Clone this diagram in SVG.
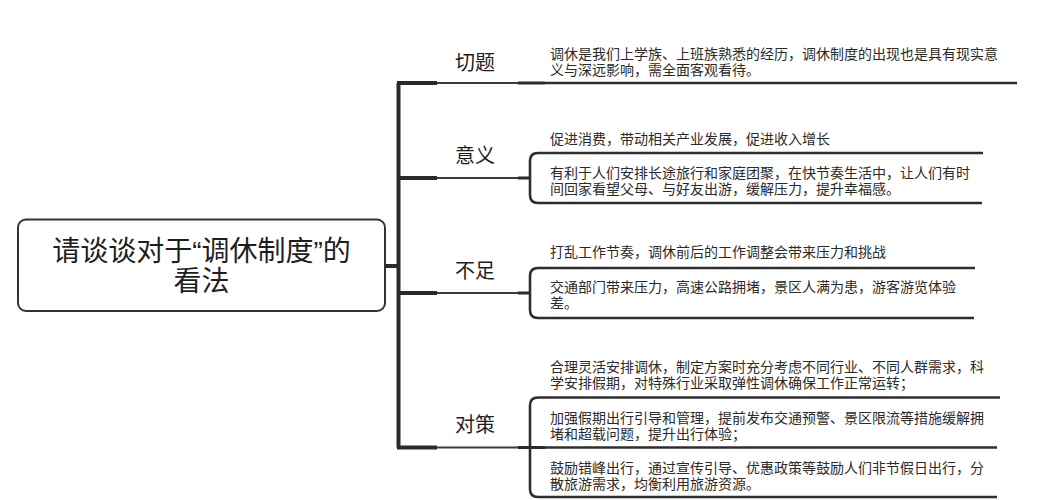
<svg xmlns="http://www.w3.org/2000/svg" width="1058" height="500" viewBox="0 0 1058 500">
<style>
.bg{fill:#ffffff}
.root{fill:#ffffff;stroke:#333;stroke-width:2}
.title{font-family:"Noto Sans CJK SC","Noto Sans",sans-serif;font-size:28px;fill:#1e1e1e;text-anchor:middle}
.q{font-family:"Liberation Sans","Noto Sans CJK SC",sans-serif}
.lab{font-family:"Noto Sans CJK SC","Noto Sans",sans-serif;font-size:20px;fill:#1e1e1e}
.txt{font-family:"Noto Sans CJK SC","Noto Sans",sans-serif;font-size:14px;fill:#2a2a2a}
.trunk{fill:none;stroke:#2a2a2a;stroke-width:4}
.stub{fill:none;stroke:#2a2a2a;stroke-width:4}
.thin{fill:none;stroke:#3a3a3a;stroke-width:2}
.mid{fill:none;stroke:#2a2a2a;stroke-width:3}
.item{fill:none;stroke:#2e2e2e;stroke-width:2.6;stroke-linecap:butt}
</style>
<rect class="bg" x="0" y="0" width="1058" height="500"/>
<g id="connectors">
  <path class="stub" d="M385 266 H398"/>
  <path class="trunk" d="M398.5 83 V447.5"/>
  <path class="stub" d="M397 83 H437"/>
  <path class="thin" d="M437 83 H518"/>
  <path class="mid" d="M518 83 H545"/>
  <path class="item" d="M545 83 H1017"/>
  <path class="stub" d="M397 178 H437"/>
  <path class="thin" d="M437 178 H518"/>
  <path class="mid" d="M518 178 H530"/>
  <path class="item" d="M983 153 H538 Q530 153 530 161 V195 Q530 203 538 203 H982"/>
  <path class="stub" d="M397 293 H437"/>
  <path class="thin" d="M437 293 H518"/>
  <path class="mid" d="M518 293 H530"/>
  <path class="item" d="M975 268 H538 Q530 268 530 276 V310 Q530 318 538 318 H974"/>
  <path class="stub" d="M397 447.5 H437"/>
  <path class="thin" d="M437 447.5 H518"/>
  <path class="mid" d="M518 447.5 H545"/>
  <path class="item" d="M545 447.5 H997"/>
  <path class="item" d="M1000 397.5 H538 Q530 397.5 530 405.5 V489 Q530 497 538 497 H997"/>
</g>
<g id="node-root">
  <rect class="root" x="18" y="219.5" width="367" height="91.5" rx="8" ry="8"/>
  <text class="title"><tspan x="201.5" y="261">请谈谈对于<tspan class="q">“</tspan>调休制度<tspan class="q">”</tspan>的</tspan><tspan x="201.5" y="291">看法</tspan></text>
</g>
<g id="node-qieti">
  <text class="lab" x="455" y="70">切题</text>
</g>
<g id="node-qieti-1">
  <text class="txt"><tspan x="550" y="59">调休是我们上学族、上班族熟悉的经历，调休制度的出现也是具有现实意</tspan><tspan x="550" y="75">义与深远影响，需全面客观看待。</tspan></text>
</g>
<g id="node-yiyi">
  <text class="lab" x="455" y="163">意义</text>
</g>
<g id="node-yiyi-1">
  <text class="txt" x="550" y="144">促进消费，带动相关产业发展，促进收入增长</text>
</g>
<g id="node-yiyi-2">
  <text class="txt"><tspan x="550" y="178">有利于人们安排长途旅行和家庭团聚，在快节奏生活中，让人们有时</tspan><tspan x="550" y="194">间回家看望父母、与好友出游，缓解压力，提升幸福感。</tspan></text>
</g>
<g id="node-buzu">
  <text class="lab" x="455" y="278">不足</text>
</g>
<g id="node-buzu-1">
  <text class="txt" x="550" y="257">打乱工作节奏，调休前后的工作调整会带来压力和挑战</text>
</g>
<g id="node-buzu-2">
  <text class="txt"><tspan x="550" y="292">交通部门带来压力，高速公路拥堵，景区人满为患，游客游览体验</tspan><tspan x="550" y="308">差。</tspan></text>
</g>
<g id="node-duice">
  <text class="lab" x="455" y="432">对策</text>
</g>
<g id="node-duice-1">
  <text class="txt"><tspan x="550" y="372">合理灵活安排调休，制定方案时充分考虑不同行业、不同人群需求，科</tspan><tspan x="550" y="388">学安排假期，对特殊行业采取弹性调休确保工作正常运转；</tspan></text>
</g>
<g id="node-duice-2">
  <text class="txt"><tspan x="550" y="423">加强假期出行引导和管理，提前发布交通预警、景区限流等措施缓解拥</tspan><tspan x="550" y="439">堵和超载问题，提升出行体验；</tspan></text>
</g>
<g id="node-duice-3">
  <text class="txt"><tspan x="550" y="473">鼓励错峰出行，通过宣传引导、优惠政策等鼓励人们非节假日出行，分</tspan><tspan x="550" y="489">散旅游需求，均衡利用旅游资源。</tspan></text>
</g>
</svg>
